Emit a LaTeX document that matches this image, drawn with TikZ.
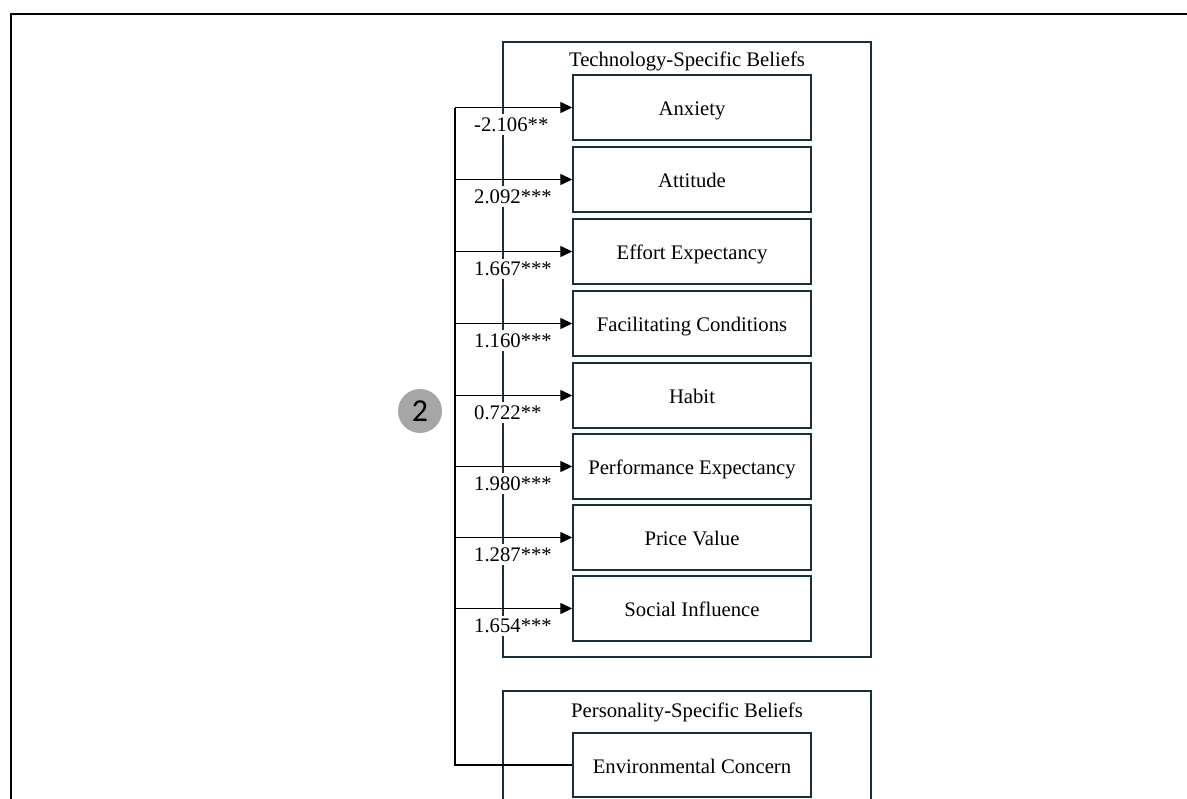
\documentclass[tikz,border=0pt]{standalone}
\usepackage{fontspec}
\setmainfont{Liberation Serif}
\newfontfamily\badgefont{Carlito}
\usetikzlibrary{arrows.meta}
\definecolor{frameteal}{RGB}{22,48,60}
\definecolor{badgegray}{RGB}{166,166,166}
\begin{document}
\begin{tikzpicture}[x=1bp,y=-1bp,
  every node/.style={font=\fontsize{20.7bp}{24bp}\selectfont},
  factor/.style={draw=frameteal, line width=1.4bp, minimum width=238bp,
    minimum height=65bp, inner sep=0pt, text height=16bp, text depth=0pt},
  groupbox/.style={draw=frameteal, line width=1.4bp},
  coef/.style={fill=white, inner xsep=1bp, inner ysep=3bp, anchor=west},
  arr/.style={draw=black, line width=1.3bp, -{Triangle[length=12bp,width=11bp]}},
  link/.style={draw=black, line width=1.3bp}]
\useasboundingbox (0,0) rectangle (1187,799);
\begin{scope}
\clip (0,0) rectangle (1187,799);

% outer frame (top and left edges)
\draw[line width=2.5bp] (11,805) -- (11,14) -- (1187,14);

% group containers
\draw[groupbox] (503,42) rectangle (871,657);
\draw[groupbox] (503,810) -- (503,691) -- (871,691) -- (871,810);
\node (techtitle) at (687,61) {Technology-Specific Beliefs};
\node (perstitle) at (687,712) {Personality-Specific Beliefs};

% factor boxes
\node[factor] (anx)  at (692,107.5) {Anxiety};
\node[factor] (att)  at (692,179.5) {Attitude};
\node[factor] (eff)  at (692,251.5) {Effort Expectancy};
\node[factor] (fac)  at (692,323.5) {Facilitating Conditions};
\node[factor] (hab)  at (692,395.5) {Habit};
\node[factor] (perf) at (692,466.5) {Performance Expectancy};
\node[factor] (pri)  at (692,537.5) {Price Value};
\node[factor] (soc)  at (692,608.5) {Social Influence};
\node[factor, minimum height=64bp] (env) at (692,765) {Environmental Concern};

% coefficients (white background breaks the container edge)
\node[coef] (canx)  at (473,124.5) {-2.106**};
\node[coef] (catt)  at (473,196.5) {2.092***};
\node[coef] (ceff)  at (473,268.5) {1.667***};
\node[coef] (cfac)  at (473,340.5) {1.160***};
\node[coef] (chab)  at (473,412.5) {0.722**};
\node[coef] (cperf) at (473,483.5) {1.980***};
\node[coef] (cpri)  at (473,554.5) {1.287***};
\node[coef] (csoc)  at (473,625.5) {1.654***};

% bus and arrows
\coordinate (bus) at (455,0);
\draw[link] (bus|-anx.west) -- (bus|-env.west) -- (env.west);
\foreach \n in {anx,att,eff,fac,hab,perf,pri,soc}
  \draw[arr] (bus|-\n.west) -- (\n.west);

% badge
\node[circle, fill=badgegray, text=black, minimum size=44bp, inner sep=0pt,
  font=\badgefont\fontsize{32bp}{32bp}\selectfont] (badge) at (420,411) {2};
\end{scope}
\end{tikzpicture}
\end{document}
